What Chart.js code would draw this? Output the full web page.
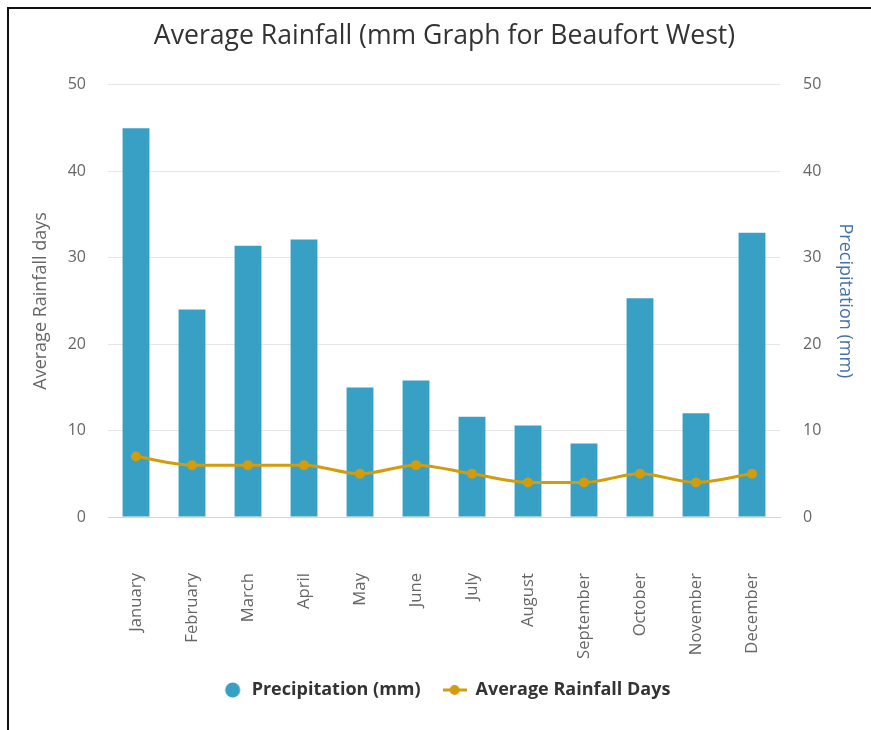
<!DOCTYPE html>
<html>
<head>
<meta charset="utf-8">
<script src="https://cdn.jsdelivr.net/npm/chart.js@4/dist/chart.umd.min.js"></script>
<style>
  html, body { margin: 0; padding: 0; background: #fff; }
  #wrap { position: relative; width: 871px; height: 730px; overflow: hidden; }
  #frame { position: absolute; left: 7px; top: 7px; width: 900px; height: 800px;
           border-left: 2px solid #111; border-top: 2px solid #111; pointer-events: none; }
</style>
</head>
<body>
<div id="wrap">
  <canvas id="chart" width="871" height="730"></canvas>
  <div id="frame"></div>
</div>
<script>
const months = ['January', 'February', 'March', 'April', 'May', 'June',
  'July', 'August', 'September', 'October', 'November', 'December'];
const precipitation = [45, 24, 31.4, 32.1, 15, 15.8, 11.6, 10.6, 8.5, 25.3, 12, 32.9];
const rainfallDays = [7, 6, 6, 6, 5, 6, 5, 4, 4, 5, 4, 5];
const axisMin = 0;
const axisMax = 50;
const axisStep = 10;

const barColor = '#38a0c4';
const lineColor = '#d29c0c';
const font = "'Open Sans', sans-serif";

// legend markers: a dot for the bars, a line with a dot for the line
function marker(kind) {
  const c = document.createElement('canvas');
  c.width = 24; c.height = 16;
  const g = c.getContext('2d');
  if (kind === 'dot') {
    g.fillStyle = barColor;
    g.beginPath(); g.arc(14, 8, 7.5, 0, Math.PI * 2); g.fill();
  } else {
    g.strokeStyle = lineColor; g.lineWidth = 3;
    g.beginPath(); g.moveTo(0, 8); g.lineTo(24, 8); g.stroke();
    g.fillStyle = lineColor;
    g.beginPath(); g.arc(12, 8, 5, 0, Math.PI * 2); g.fill();
  }
  return c;
}

const ctx = document.getElementById('chart').getContext('2d');
new Chart(ctx, {
  type: 'bar',
  data: {
    labels: months,
    datasets: [{
      type: 'bar',
      label: 'Precipitation (mm)',
      data: precipitation,
      yAxisID: 'y1',
      backgroundColor: barColor,
      barPercentage: 0.48,
      categoryPercentage: 1,
      order: 2
    }, {
      type: 'line',
      label: 'Average Rainfall Days',
      data: rainfallDays,
      yAxisID: 'y',
      borderColor: lineColor,
      backgroundColor: lineColor,
      borderWidth: 3,
      pointRadius: 5,
      pointBorderWidth: 0,
      pointBackgroundColor: lineColor,
      cubicInterpolationMode: 'monotone',
      order: 1
    }]
  },
  options: {
    responsive: false,
    animation: false,
    // the framed box starts a little to the right, so everything centres on it
    layout: { padding: { left: 18, right: 0, top: 0, bottom: 21 } },
    plugins: {
      title: {
        display: true,
        text: 'Average Rainfall (mm Graph for Beaufort West)',
        color: '#333',
        font: { family: font, size: 26.6, weight: 'normal' },
        padding: { top: 20, bottom: 33 }
      },
      legend: {
        position: 'bottom',
        labels: {
          usePointStyle: true,
          pointStyleWidth: 24,
          boxHeight: 16,
          padding: 22,
          color: '#333',
          font: { family: font, size: 18, weight: 'bold' },
          sort: (a, b) => a.datasetIndex - b.datasetIndex,
          generateLabels: (chart) => {
            const items = Chart.defaults.plugins.legend.labels.generateLabels(chart);
            items.forEach(it => {
              it.pointStyle = it.datasetIndex === 0 ? marker('dot') : marker('line');
            });
            return items;
          }
        }
      },
      tooltip: { enabled: false }
    },
    scales: {
      x: {
        grid: { display: false },
        border: { display: true, color: '#ccd6eb', width: 1 },
        ticks: {
          minRotation: 90, maxRotation: 90, autoSkip: false,
          padding: 48, color: '#666',
          font: { family: font, size: 16.7 }
        },
        afterFit: (s) => { s.height = 142; }
      },
      y: {
        position: 'left',
        min: axisMin, max: axisMax,
        ticks: { stepSize: axisStep, padding: 22, color: '#666', font: { family: font, size: 16 } },
        grid: {
          drawTicks: false,
          color: (c) => c.tick && c.tick.value === 0 ? '#ccd6eb' : '#e6e6e6'
        },
        border: { display: false },
        title: {
          display: true, text: 'Average Rainfall days', color: '#666',
          font: { family: font, size: 18 }, padding: { top: 12, bottom: 0 }
        },
        afterFit: (s) => { s.width = 90; }
      },
      y1: {
        position: 'right',
        min: axisMin, max: axisMax,
        ticks: { stepSize: axisStep, padding: 23, color: '#666', font: { family: font, size: 16 } },
        grid: { drawOnChartArea: false, drawTicks: false },
        border: { display: false },
        title: {
          display: true, text: 'Precipitation (mm)', color: '#4572a7',
          font: { family: font, size: 18 }, padding: { top: 15, bottom: 0 }
        },
        afterFit: (s) => { s.width = 91; }
      }
    }
  }
});
</script>
</body>
</html>
